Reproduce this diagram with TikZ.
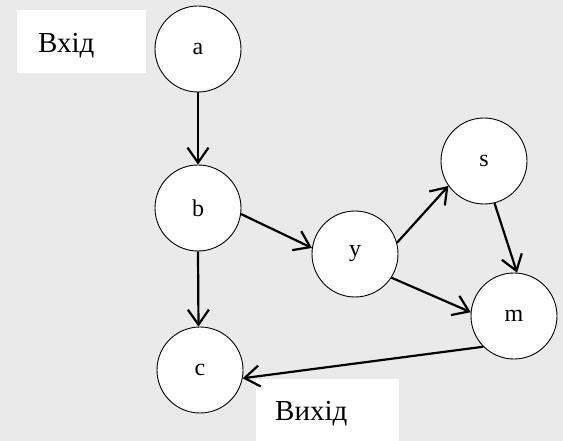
\documentclass[tikz,border=0pt]{standalone}
\usepackage{fontspec}
\setmainfont{Liberation Serif}
\usetikzlibrary{arrows.meta}
\definecolor{bgc}{RGB}{234,234,234}
\begin{document}
\begin{tikzpicture}[x=1pt,y=-1pt,
  vert/.style={circle,draw=black,fill=white,line width=0.9pt,minimum size=86pt,inner sep=0pt,font=\fontsize{24}{26}\selectfont},
  lbl/.style={anchor=base west,inner sep=0pt,font=\fontsize{29}{32}\selectfont},
  edge/.style={line width=2.2pt,-{Straight Barb[length=15pt,width=21pt,line width=2.2pt]}}]
\fill[bgc] (0,0) rectangle (563,441);
\useasboundingbox (0,0) rectangle (563,441);
\fill[white] (17,10) rectangle (146,73);
\fill[white] (256,379) rectangle (399,441);
\node[lbl] (in) at (38,53) {Вхід};
\node[lbl] (out) at (275,420) {Вихід};
\node[vert] (a) at (198,49) {a};
\node[vert] (b) at (198,208) {b};
\node[vert] (y) at (355,254) {y};
\node[vert] (s) at (484,161) {s};
\node[vert] (m) at (514,316) {m};
\node[vert] (c) at (200,370) {c};
\draw[edge] (a.270) -- (b.90);
\draw[edge] (b.-8) -- (y.172);
\draw[edge] (b.270) -- (c.92);
\draw[edge] (y.15) -- (s.215);
\draw[edge] (y.-33) -- (m.175);
\draw[edge] (s.284) -- (m.86);
\draw[edge] (m.225) -- (c.349);
\end{tikzpicture}
\end{document}
